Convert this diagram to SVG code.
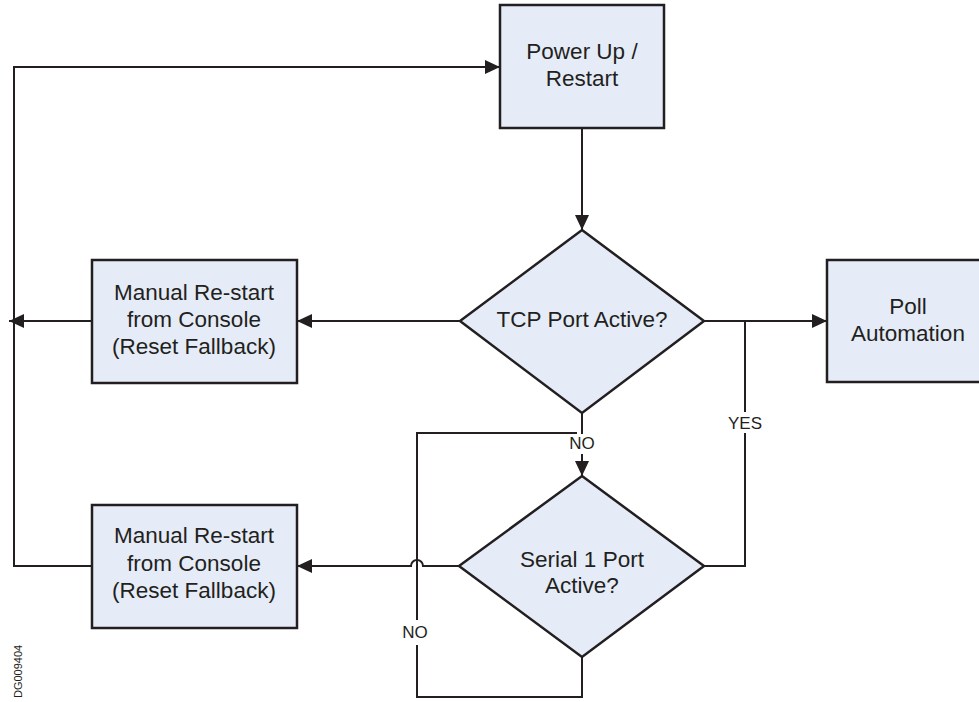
<svg xmlns="http://www.w3.org/2000/svg" width="979" height="702" viewBox="0 0 979 702">
<style>
.box{fill:#e5ecf7;stroke:#231f20;stroke-width:2.5}
.t{font-family:"Liberation Sans",Arial,sans-serif;font-size:22.5px;fill:#231f20;text-anchor:middle}
.lbl{font-family:"Liberation Sans",Arial,sans-serif;font-size:17px;fill:#231f20;text-anchor:middle}
.c{fill:none;stroke:#231f20;stroke-width:2}
.a{marker-end:url(#ah)}
</style>
<defs>
<marker id="ah" markerUnits="userSpaceOnUse" markerWidth="15" markerHeight="14" refX="15" refY="7" orient="auto">
<path d="M0,0 L15,7 L0,14 z" fill="#231f20"/>
</marker>
</defs>
<rect width="979" height="702" fill="#ffffff"/>
<g id="connectors">
<path class="c a" d="M582,128 V230"/>
<path class="c a" d="M460,321 H297"/>
<path class="c a" d="M92,321 H9"/>
<path class="c a" d="M92,566 H14 V67 H500"/>
<path class="c a" d="M704,321 H827"/>
<path class="c" d="M704,566 H745 V433"/>
<path class="c" d="M745,412 V321"/>
<path class="c" d="M582,413 V434"/>
<path class="c a" d="M582,454 V476"/>
<path class="c a" d="M459,566 H423 A6,6 0 0 0 411,566 H297"/>
<path class="c" d="M582,657 V697 H417 V645"/>
<path class="c" d="M417,620 V433 H577"/>
<text class="lbl" x="745" y="429">YES</text>
<text class="lbl" x="582" y="449">NO</text>
<text class="lbl" x="415" y="638">NO</text>
</g>
<g id="power-up">
<rect class="box" x="500" y="5" width="164" height="123"/>
<text class="t" x="582" y="59">Power Up /</text>
<text class="t" x="582" y="86">Restart</text>
</g>
<g id="tcp-port">
<polygon class="box" points="582,230 704,321 582,413 460,321"/>
<text class="t" x="582" y="327">TCP Port Active?</text>
</g>
<g id="manual-restart-1">
<rect class="box" x="92" y="260" width="205" height="123"/>
<text class="t" x="194" y="300">Manual Re-start</text>
<text class="t" x="194" y="327">from Console</text>
<text class="t" x="194" y="354">(Reset Fallback)</text>
</g>
<g id="poll-automation">
<rect class="box" x="827" y="260" width="164" height="122"/>
<text class="t" x="908" y="314">Poll</text>
<text class="t" x="908" y="341">Automation</text>
</g>
<g id="serial-port">
<polygon class="box" points="582,476 704,566 582,657 459,566"/>
<text class="t" x="582" y="567">Serial 1 Port</text>
<text class="t" x="582" y="593">Active?</text>
</g>
<g id="manual-restart-2">
<rect class="box" x="92" y="505" width="205" height="123"/>
<text class="t" x="194" y="543">Manual Re-start</text>
<text class="t" x="194" y="571">from Console</text>
<text class="t" x="194" y="598">(Reset Fallback)</text>
</g>
<text x="22" y="698" transform="rotate(-90 22 698)" font-family="Liberation Sans, Arial, sans-serif" font-size="11" fill="#231f20">DG009404</text>
</svg>
